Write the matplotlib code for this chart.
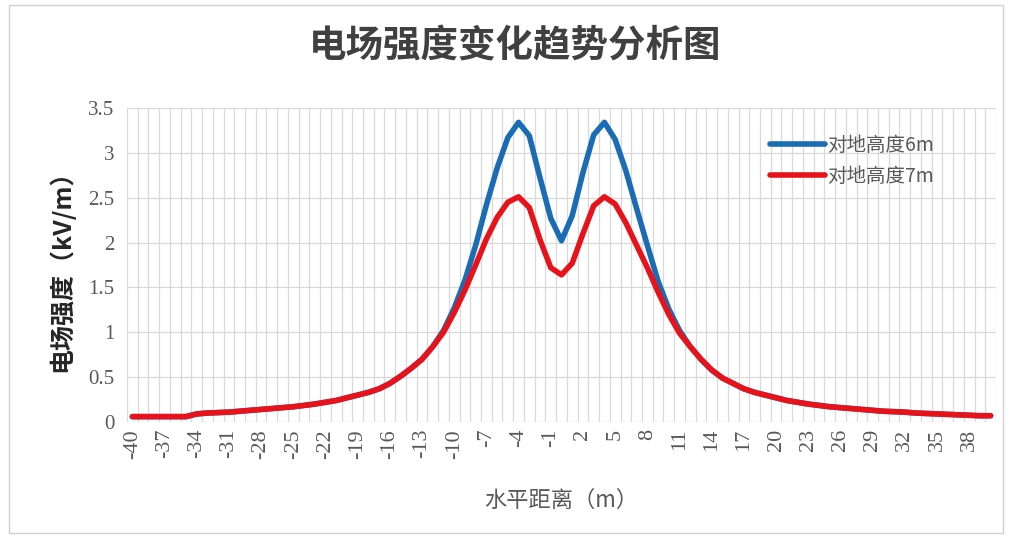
import numpy as np
import matplotlib
matplotlib.use('Agg')
import matplotlib.pyplot as plt
from matplotlib.patches import Rectangle

plt.rcParams['font.family'] = ['Noto Sans CJK SC', 'DejaVu Sans']

# horizontal distance (m), one category per metre
dist = list(range(-40, 41))

tail_left = [0.06, 0.06, 0.06, 0.06, 0.06, 0.06, 0.09, 0.10, 0.105, 0.11,
             0.12, 0.13, 0.14, 0.15, 0.16, 0.17, 0.185, 0.20, 0.22, 0.24,
             0.27, 0.30, 0.33, 0.37, 0.43, 0.51, 0.60, 0.70, 0.84]   # -40 .. -12
tail_right = [0.84, 0.70, 0.58, 0.49, 0.43, 0.37, 0.33, 0.30, 0.27, 0.24,
              0.22, 0.20, 0.185, 0.17, 0.16, 0.15, 0.14, 0.13, 0.12, 0.115,
              0.11, 0.10, 0.095, 0.09, 0.085, 0.08, 0.075, 0.07, 0.07]  # 12 .. 40

# -11 .. 11
mid_6m = [1.02, 1.27, 1.58, 1.97, 2.42, 2.83, 3.17, 3.34, 3.19, 2.72, 2.27, 2.02,
          2.30, 2.78, 3.20, 3.34, 3.15, 2.80, 2.38, 1.97, 1.57, 1.26, 1.02]
mid_7m = [1.00, 1.22, 1.47, 1.75, 2.04, 2.28, 2.45, 2.51, 2.39, 2.03, 1.72, 1.64,
          1.77, 2.10, 2.41, 2.51, 2.43, 2.22, 1.97, 1.72, 1.45, 1.20, 0.99]

e_6m = tail_left + mid_6m + tail_right
e_7m = tail_left + mid_7m + tail_right

labels = ['对地高度6m', '对地高度7m']
title = '电场强度变化趋势分析图'
xlabel = '水平距离（m）'
ylabel = '电场强度（kV/m）'

fig = plt.figure(figsize=(10.12, 5.35), dpi=100)
ax = fig.add_axes([127 / 1012, 1 - 422 / 535, (996 - 127) / 1012, (422 - 108) / 535])

ax.plot(dist, e_6m, color='#1a6cb4', lw=4, solid_capstyle='round', solid_joinstyle='round', label=labels[0])
ax.plot(dist, e_7m, color='#e8121a', lw=4, solid_capstyle='round', solid_joinstyle='round', label=labels[1])

ax.set_xlim(-40.5, 40.5)
ax.set_ylim(0, 3.5)
ax.set_xticks(dist[::3])
ax.set_xticklabels([str(d) for d in dist[::3]], rotation=90, family='Liberation Serif',
                   fontsize=16, color='#595959')
ax.set_xticks(np.arange(-40.5, 41, 1), minor=True)
yt = np.arange(0, 3.51, 0.5)
ax.set_yticks(yt)
ax.set_yticklabels(['%g' % v for v in yt], family='Liberation Serif', fontsize=15, color='#595959')
ax.tick_params(axis='both', which='both', length=0)
ax.tick_params(axis='y', pad=9)
ax.tick_params(axis='x', pad=5)
ax.grid(axis='x', which='minor', color='#d9d9d9', lw=0.9)
ax.grid(axis='y', which='major', color='#d9d9d9', lw=0.9)
ax.set_axisbelow(True)
for s in ax.spines.values():
    s.set_visible(False)

ax.set_xlabel(xlabel, fontsize=16, color='#595959', labelpad=22)
ax.set_ylabel(ylabel, fontsize=18, fontweight='bold', color='#262626', labelpad=10)

fig.text(0.509, 1 - 46 / 535, title, ha='center', va='center', fontsize=27,
         fontweight='bold', color='#404040')

leg = ax.legend(loc='upper left', bbox_to_anchor=(0.72, 0.97), frameon=False,
                fontsize=14, handlelength=2.8, handletextpad=0.15, labelspacing=0.5,
                labelcolor='#595959')

fig.patches.append(Rectangle((9 / 1012, 2 / 535), 994 / 1012, 528 / 535,
                             transform=fig.transFigure, fill=False,
                             edgecolor='#d0d0d0', lw=1))

fig.savefig('out.png', dpi=100)
